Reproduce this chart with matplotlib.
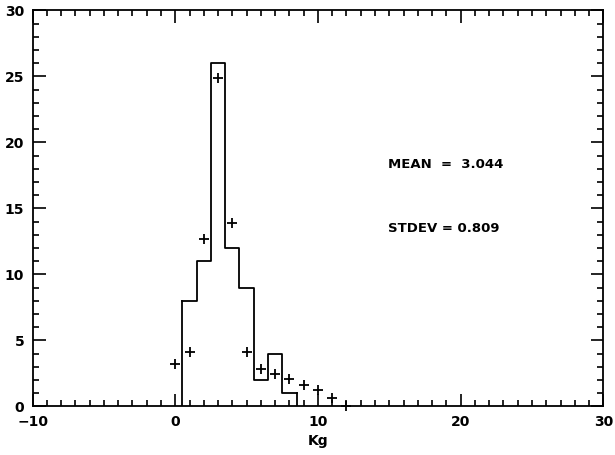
import numpy as np
import matplotlib
matplotlib.use('Agg')
import matplotlib.pyplot as plt
from matplotlib.ticker import MultipleLocator

# ── 데이터 ──
bin_edges = [0.5, 1.5, 2.5, 3.5, 4.5, 5.5, 6.5, 7.5, 8.5]
bin_counts = [8, 11, 26, 12, 9, 2, 4, 1]

fit_x = [0, 1, 2, 3, 4, 5, 6, 7, 8, 9, 10, 11, 12]
fit_y = [3.2, 4.1, 12.7, 24.9, 13.9, 4.1, 2.8, 2.45, 2.1, 1.65, 1.2, 0.65, 0.05]

mean_text = "MEAN  =  3.044"
stdev_text = "STDEV = 0.809"

plt.rcParams['font.family'] = ['DejaVu Sans']

fig = plt.figure(figsize=(6.15, 4.55), dpi=100)
ax = fig.add_axes([0.053, 0.107, 0.928, 0.870])

# 히스토그램 (계단선)
ax.step(bin_edges, [bin_counts[0]] + bin_counts, where='pre', color='black', lw=1.3)
ax.plot([bin_edges[0], bin_edges[0]], [0, bin_counts[0]], color='black', lw=1.3)
ax.plot([bin_edges[-1], bin_edges[-1]], [0, bin_counts[-1]], color='black', lw=1.3)

# 피팅 점
ax.plot(fit_x, fit_y, linestyle='none', marker='+', color='black', ms=7, mew=1.3,
        clip_on=False)

ax.text(0.622, 0.612, mean_text, transform=ax.transAxes, fontsize=9.5,
        fontweight='bold', va='center')
ax.text(0.622, 0.45, stdev_text, transform=ax.transAxes, fontsize=9.5,
        fontweight='bold', va='center')

ax.set_xlim(-10, 30)
ax.set_ylim(0, 30)
ax.xaxis.set_major_locator(MultipleLocator(10))
ax.xaxis.set_minor_locator(MultipleLocator(1))
ax.yaxis.set_major_locator(MultipleLocator(5))
ax.yaxis.set_minor_locator(MultipleLocator(1))
ax.tick_params(which='both', direction='in', top=True, right=True, width=1.2,
               labelsize=10, pad=6)
ax.tick_params(which='major', length=9)
ax.tick_params(which='minor', length=4)
for lbl in ax.get_xticklabels() + ax.get_yticklabels():
    lbl.set_fontweight('bold')
for s in ax.spines.values():
    s.set_linewidth(1.3)

ax.set_xlabel('Kg', fontsize=10, fontweight='bold', labelpad=4)

fig.savefig('out.png', dpi=100)
